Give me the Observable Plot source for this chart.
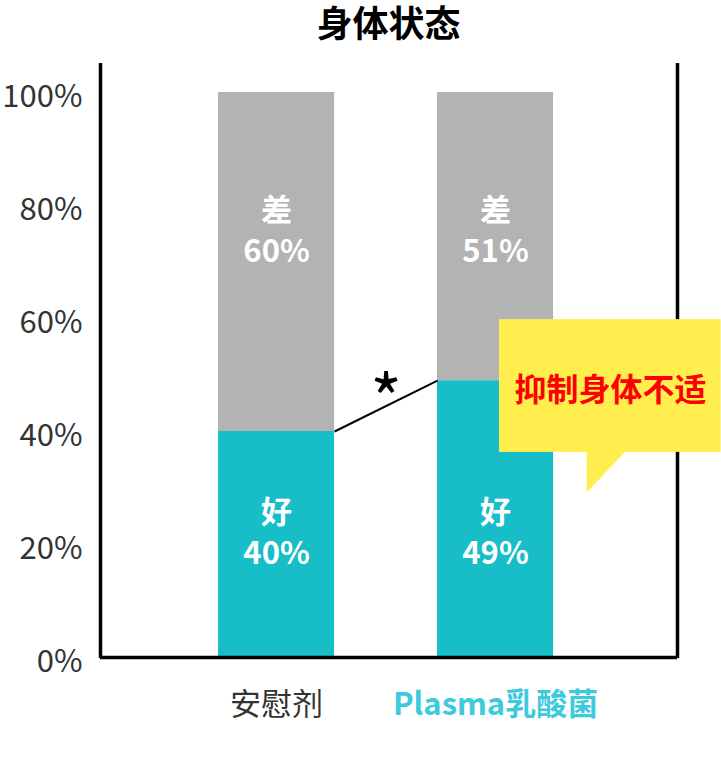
<!DOCTYPE html>
<html>
<head>
<meta charset="utf-8">
<script src="https://cdn.jsdelivr.net/npm/d3@7"></script>
<script src="https://cdn.jsdelivr.net/npm/@observablehq/plot@0.6"></script>
<style>
  html, body { margin: 0; padding: 0; background: #fff; }
  #title { width: 577px; padding: 0 44px 0 100px; height: 45px; line-height: 42px;
    text-align: center; font-family: "Noto Sans CJK SC", sans-serif; font-weight: bold;
    font-size: 36px; color: #000; }
  #chart svg { display: block; font-family: "Noto Sans CJK SC", "Noto Sans", sans-serif; }
</style>
</head>
<body>
<div id="title"></div>
<div id="chart"></div>
<script>
const title = "身体状态";
const categories = ["安慰剂", "Plasma乳酸菌"];
const goodValues = [40, 49];
const badValues = [60, 51];
const goodLabel = "好";
const badLabel = "差";
const yTicks = [0, 20, 40, 60, 80, 100];
const significance = "*";
const calloutText = "抑制身体不适";

const CYAN = "#17bec8";
const GRAY = "#b3b3b3";
const FONT = "Noto Sans CJK SC";
const hw = 0.265;            // half bar width in x units
const xDomain = [-0.804, 1.831];

document.getElementById("title").textContent = title;

const rows = categories.map((c, i) => ({
  i, cat: c, good: goodValues[i], bad: badValues[i]
}));

const segs = rows.flatMap(r => [
  {i: r.i, y1: 0, y2: r.good, fill: CYAN},
  {i: r.i, y1: r.good, y2: r.good + r.bad, fill: GRAY}
]);

const plot = Plot.plot({
  width: 721,
  height: 739,
  marginLeft: 100,
  marginRight: 44,
  marginTop: 18,
  marginBottom: 126,
  style: {fontFamily: FONT, background: "#fff"},
  x: {domain: xDomain, axis: null},
  y: {domain: [0, 100], range: [612, 47], axis: null},
  marks: [
    // bars
    Plot.rectY(segs, {x1: d => d.i - hw, x2: d => d.i + hw, y1: "y1", y2: "y2", fill: d => d.fill}),
    // frame lines
    Plot.ruleX([xDomain[0], xDomain[1]], {stroke: "#000", strokeWidth: 3.5}),
    Plot.ruleY([0], {stroke: "#000", strokeWidth: 3.5}),
    // y axis
    Plot.axisY({ticks: yTicks, tickFormat: d => d + "%", tickSize: 0, tickPadding: 18,
      fontSize: 31, fill: "#333", dy: 5, label: null}),
    // segment labels
    Plot.text(rows, {x: "i", y: 75.4, dy: -3, text: d => badLabel + "\n" + d.bad + "%",
      fill: "#fff", fontSize: 31, fontWeight: "bold", lineHeight: 1.32}),
    Plot.text(rows, {x: "i", y: 22, dy: -3, text: d => goodLabel + "\n" + d.good + "%",
      fill: "#fff", fontSize: 31, fontWeight: "bold", lineHeight: 1.32}),
    // connecting line
    Plot.link([0], {x1: () => rows[0].i + hw, y1: () => rows[0].good,
      x2: () => rows[1].i - hw, y2: () => rows[1].good, stroke: "#000", strokeWidth: 2}),
    Plot.text([significance], {x: 0.5, y: 48.4, text: d => d, fontSize: 68,
      fill: "#000", dy: 19}),
    // callout
    Plot.rect([0], {x1: 1.018, x2: 2.03, y1: 36.3, y2: 59.8, fill: "#ffee4d"}),
    Plot.line([[1.416, 36.5], [1.594, 36.5], [1.416, 29.2]], {x: d => d[0], y: d => d[1],
      fill: "#ffee4d", stroke: "none"}),
    Plot.text([calloutText], {x: 1.525, y: 47.3, text: d => d, fill: "#ff0000",
      fontSize: 32, fontWeight: "bold"}),
    // x labels
    Plot.text([rows[0]], {x: "i", text: "cat", frameAnchor: "bottom", dy: 56,
      fill: "#333", fontSize: 31}),
    Plot.text([rows[1]], {x: "i", text: "cat", frameAnchor: "bottom", dy: 56,
      fill: "#3ccbdc", fontSize: 31, fontWeight: "bold"})
  ]
});
document.getElementById("chart").appendChild(plot);
</script>
</body>
</html>
